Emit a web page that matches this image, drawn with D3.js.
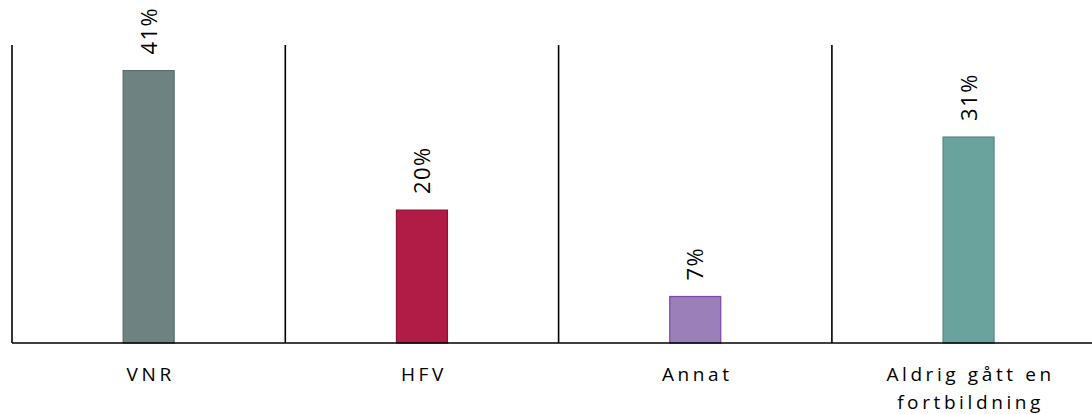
<!DOCTYPE html>
<html><head><meta charset="utf-8">
<script src="https://cdn.jsdelivr.net/npm/d3@7/dist/d3.min.js"></script>
<style>body{margin:0;background:#fff}svg{display:block}</style>
</head><body>
<svg id="c" width="1092" height="414"></svg>
<script>
const categories = ["VNR", "HFV", "Annat", "Aldrig gått en fortbildning"];
const labelLines = [["VNR"], ["HFV"], ["Annat"], ["Aldrig gått en", "fortbildning"]];
const values = [41, 20, 7, 31];
const valueLabels = ["41%", "20%", "7%", "31%"];
const fills = ["#6f8282", "#b01c45", "#9a7fb8", "#6aa29e"];
const strokes = ["#5a6b6b", "#8c1335", "#7d45b0", "#558683"];

const svg = d3.select("#c");
const W = 1092;
const x0 = 12, band = 273.3;
const x = d3.scaleBand().domain(categories).range([x0, x0 + band * 4]).paddingInner(0).paddingOuter(0);
const y = d3.scaleLinear().domain([0, 45]).range([343, 44]);
const bw = 51;

// separators
svg.selectAll("line.sep").data(categories).join("line")
  .attr("class", "sep")
  .attr("x1", d => x(d)).attr("x2", d => x(d))
  .attr("y1", y(45) + 1).attr("y2", y(0))
  .attr("stroke", "#000").attr("stroke-width", 1.6);

// bars
svg.selectAll("rect.bar").data(values).join("rect")
  .attr("class", "bar")
  .attr("x", (d, i) => x(categories[i]) + x.bandwidth() / 2 - bw / 2)
  .attr("width", bw)
  .attr("y", d => y(d))
  .attr("height", d => y(0) - y(d))
  .attr("fill", (d, i) => fills[i])
  .attr("stroke", (d, i) => strokes[i])
  .attr("stroke-width", 1.2);

// baseline
svg.append("line").attr("x1", x0).attr("x2", W).attr("y1", y(0)).attr("y2", y(0))
  .attr("stroke", "#000").attr("stroke-width", 1.6);

// value labels
svg.selectAll("text.val").data(values).join("text")
  .attr("class", "val")
  .attr("transform", (d, i) => `translate(${x(categories[i]) + x.bandwidth() / 2 + 8},${y(d) - 16}) rotate(-90)`)
  .attr("text-anchor", "start")
  .attr("font-family", "Open Sans, sans-serif")
  .attr("font-size", 22)
  .attr("letter-spacing", 1.5)
  .attr("fill", "#000")
  .text((d, i) => valueLabels[i]);

// category labels
const g = svg.selectAll("text.cat").data(categories).join("text")
  .attr("class", "cat")
  .attr("text-anchor", "middle")
  .attr("font-family", "Open Sans, sans-serif")
  .attr("font-size", 19)
  .attr("letter-spacing", 3.6)
  .attr("fill", "#000");
g.each(function(d, i) {
  const t = d3.select(this);
  labelLines[i].forEach((ln, j) => {
    t.append("tspan").attr("x", x(d) + x.bandwidth() / 2 + 2).attr("y", 381 + j * 28).text(ln);
  });
});
</script>
</body></html>
